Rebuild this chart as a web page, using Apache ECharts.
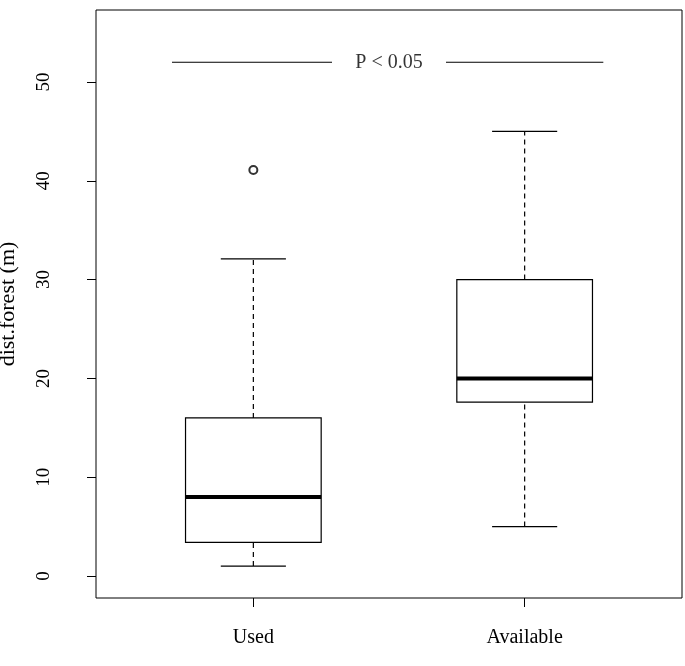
<!DOCTYPE html>
<html><head><meta charset="utf-8">
<script src="https://cdn.jsdelivr.net/npm/echarts@6/dist/echarts.min.js"></script>
<style>html,body{margin:0;padding:0;background:#fff}#c{width:685px;height:666px}</style>
</head><body><div id="c"></div>
<script>
const categories = ["Used", "Available"];
const positions = [1, 2];
const lowWhisker = [1.0, 5.0];
const q1 = [3.4, 17.6];
const median = [8.0, 20.0];
const q3 = [16.0, 30.0];
const highWhisker = [32.1, 45.0];
const outliers = [[1, 41.1]];
const yTicks = [0, 10, 20, 30, 40, 50];
const sigText = "P < 0.05";
const sigY = 52;

const chart = echarts.init(document.getElementById('c'));
const boxData = positions.map((p, i) => [p, lowWhisker[i], q1[i], median[i], q3[i], highWhisker[i]]);
const F = 'Liberation Serif, Times New Roman, serif';
chart.setOption({
  animation: false,
  grid: {left: 96, top: 10, width: 586, height: 588, show: true, borderColor: '#000', borderWidth: 1, outerBoundsMode: 'none', containLabel: false},
  xAxis: {type: 'value', min: 0.42, max: 2.58, splitLine: {show: false},
    axisLine: {show: false, onZero: false},
    axisTick: {show: true, length: 9, customValues: positions, lineStyle: {color: '#000'}},
    axisLabel: {customValues: positions, margin: 30, color: '#000', fontFamily: F, fontSize: 20,
      formatter: v => categories[positions.indexOf(v)] || ''}},
  yAxis: {type: 'value', min: -2.23, max: 57.29, splitLine: {show: false},
    name: 'dist.forest (m)', nameLocation: 'middle', nameGap: 77, nameRotate: 90,
    nameTextStyle: {color: '#000', fontFamily: F, fontSize: 22},
    axisLine: {show: false, onZero: false},
    axisTick: {show: true, length: 9, customValues: yTicks, lineStyle: {color: '#000'}},
    axisLabel: {customValues: yTicks, rotate: 90, margin: 42, color: '#000', fontFamily: F, fontSize: 19}},
  series: [
    {type: 'custom', data: boxData, clip: false,
      renderItem: function (params, api) {
        const x = api.value(0), hw = 0.25, cw = 0.12;
        const c = (a, b) => api.coord([a, b]);
        const lo = api.value(1), a = api.value(2), m = api.value(3), b = api.value(4), hi = api.value(5);
        const L = (p1, p2, st) => ({type: 'line', shape: {x1: p1[0], y1: p1[1], x2: p2[0], y2: p2[1]}, style: st});
        const solid = {stroke: '#000', lineWidth: 1.2};
        const dash = {stroke: '#000', lineWidth: 1.2, lineDash: [5, 4]};
        const tl = c(x - hw, b), br = c(x + hw, a);
        return {type: 'group', children: [
          L(c(x, lo), c(x, a), dash),
          L(c(x, b), c(x, hi), dash),
          L(c(x - cw, lo), c(x + cw, lo), solid),
          L(c(x - cw, hi), c(x + cw, hi), solid),
          {type: 'rect', shape: {x: tl[0], y: tl[1], width: br[0] - tl[0], height: br[1] - tl[1]}, style: {fill: '#fff', stroke: '#000', lineWidth: 1.2}},
          L(c(x - hw, m), c(x + hw, m), {stroke: '#000', lineWidth: 4})
        ]};
      }},
    {type: 'scatter', data: outliers, symbol: 'emptyCircle', symbolSize: 8,
      itemStyle: {color: '#000', borderColor: '#000', borderWidth: 1.2}},
    {type: 'line', data: [[0.70, sigY], [1.29, sigY]], symbol: 'none', lineStyle: {color: '#000', width: 1.2}},
    {type: 'line', data: [[1.71, sigY], [2.29, sigY]], symbol: 'none', lineStyle: {color: '#000', width: 1.2}},
    {type: 'scatter', data: [[1.5, sigY]], symbolSize: 0,
      label: {show: true, position: 'inside', formatter: sigText, color: '#000', fontFamily: F, fontSize: 20}}
  ]
});
</script></body></html>
